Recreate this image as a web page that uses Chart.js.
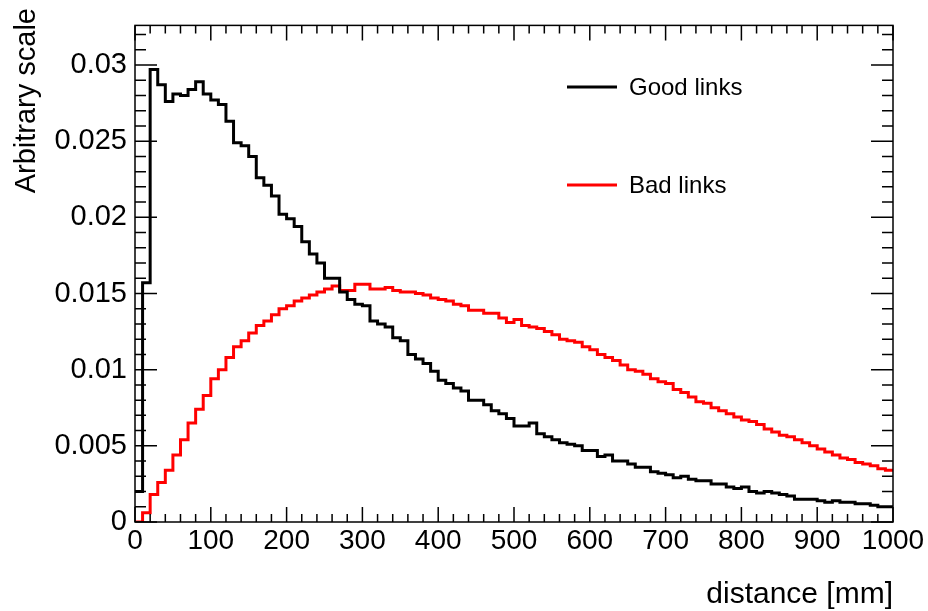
<!DOCTYPE html>
<html>
<head>
<meta charset="utf-8">
<script src="https://cdn.jsdelivr.net/npm/chart.js@4.4.1/dist/chart.umd.min.js"></script>
<style>
  html, body { margin: 0; padding: 0; background: #fff; }
  #wrap { width: 928px; height: 611px; }
</style>
</head>
<body>
<div id="wrap"><canvas id="myChart"></canvas></div>
<script>
// histogram: 100 bins of 10 mm from 0 to 1000
const binWidth = 10;
const xRange = [0, 1000];
const xTicks = [0, 100, 200, 300, 400, 500, 600, 700, 800, 900, 1000];
const yTicks = [0, 0.005, 0.01, 0.015, 0.02, 0.025, 0.03];
const yMax = 0.0326;
const yTitle = 'Arbitrary scale';

const goodLinks = [
  0.0020, 0.0157, 0.0297, 0.0287, 0.0276, 0.0281, 0.0280, 0.0284, 0.0289, 0.0281,
  0.0277, 0.0274, 0.0263, 0.0249, 0.0247, 0.0240, 0.0226, 0.0221, 0.0214, 0.0202,
  0.0199, 0.0194, 0.0184, 0.0176, 0.0170, 0.0160, 0.0160, 0.0151, 0.0146, 0.0143,
  0.0142, 0.0132, 0.0130, 0.0128, 0.0121, 0.0119, 0.0110, 0.0107, 0.0104, 0.0099,
  0.0093, 0.0091, 0.0088, 0.0086, 0.0080, 0.0080, 0.0077, 0.0073, 0.0071, 0.0068,
  0.0063, 0.0063, 0.0065, 0.0058, 0.0056, 0.0054, 0.0052, 0.0051, 0.0050, 0.0047,
  0.0047, 0.0043, 0.0044, 0.0040, 0.0040, 0.0038, 0.0036, 0.0036, 0.0033, 0.0032,
  0.0031, 0.0029, 0.0030, 0.0028, 0.0027, 0.0027, 0.0025, 0.0025, 0.0023, 0.0022,
  0.0023, 0.0020, 0.0019, 0.0020, 0.0019, 0.0018, 0.0017, 0.0015, 0.0015, 0.0015,
  0.0014, 0.0013, 0.0014, 0.0013, 0.0013, 0.0012, 0.0012, 0.0011, 0.0010, 0.0010
];

const badLinks = [
  0.0000, 0.0006, 0.0018, 0.0026, 0.0034, 0.0044, 0.0054, 0.0065, 0.0074, 0.0083,
  0.0094, 0.0100, 0.0108, 0.0115, 0.0119, 0.0124, 0.0129, 0.0132, 0.0136, 0.0140,
  0.0142, 0.0145, 0.0147, 0.0149, 0.0151, 0.0153, 0.0155, 0.0152, 0.0152, 0.0156,
  0.0156, 0.0153, 0.0153, 0.0154, 0.0152, 0.0151, 0.0151, 0.0150, 0.0149, 0.0147,
  0.0146, 0.0145, 0.0143, 0.0142, 0.0139, 0.0139, 0.0137, 0.0137, 0.0134, 0.0131,
  0.0133, 0.0129, 0.0128, 0.0127, 0.0125, 0.0123, 0.0120, 0.0119, 0.0118, 0.0115,
  0.0113, 0.0110, 0.0108, 0.0106, 0.0103, 0.0100, 0.0099, 0.0097, 0.0094, 0.0092,
  0.0091, 0.0087, 0.0085, 0.0082, 0.0079, 0.0078, 0.0075, 0.0073, 0.0071, 0.0069,
  0.0067, 0.0066, 0.0064, 0.0061, 0.0059, 0.0057, 0.0056, 0.0054, 0.0052, 0.0050,
  0.0048, 0.0046, 0.0044, 0.0042, 0.0041, 0.0039, 0.0038, 0.0037, 0.0035, 0.0034
];

// bin contents -> step points (left edge of each bin, plus closing point at the upper edge)
function toSteps(values) {
  const pts = values.map((v, i) => ({ x: xRange[0] + i * binWidth, y: v }));
  pts.push({ x: xRange[1], y: values[values.length - 1] });
  return pts;
}

const FONT = '"Liberation Sans", Arial, Helvetica, sans-serif';

// ROOT style frame: box around plot area with ticks pointing inwards on all four sides
const frameTicks = {
  id: 'frameTicks',
  afterDatasetsDraw(chart) {
    const { ctx, chartArea: a, scales } = chart;
    const xs = scales.x, ys = scales.y;
    ctx.save();
    ctx.strokeStyle = '#000';
    ctx.lineWidth = 1.5;
    ctx.strokeRect(a.left, a.top, a.right - a.left, a.bottom - a.top);
    ctx.beginPath();
    for (let v = xs.min; v <= xs.max + 1e-9; v += 20) {
      const px = xs.getPixelForValue(v);
      const len = (v % 100 === 0) ? 15 : 8;
      ctx.moveTo(px, a.bottom); ctx.lineTo(px, a.bottom - len);
      ctx.moveTo(px, a.top); ctx.lineTo(px, a.top + len);
    }
    for (let k = 0; k * 0.001 <= ys.max + 1e-9; k++) {
      const py = ys.getPixelForValue(k * 0.001);
      const len = (k % 5 === 0) ? 22 : 11;
      ctx.moveTo(a.left, py); ctx.lineTo(a.left + len, py);
      ctx.moveTo(a.right, py); ctx.lineTo(a.right - len, py);
    }
    ctx.stroke();

    // y axis title, right aligned to the top of the frame
    ctx.save();
    ctx.translate(27, 8);
    ctx.rotate(-Math.PI / 2);
    ctx.font = '29px ' + FONT;
    ctx.fillStyle = '#000';
    ctx.textAlign = 'right';
    ctx.textBaseline = 'middle';
    ctx.fillText(yTitle, 0, 0);
    ctx.restore();

    // legend
    const items = chart.data.datasets;
    const legY = [87, 185];
    ctx.font = '24px ' + FONT;
    ctx.textBaseline = 'middle';
    ctx.textAlign = 'left';
    items.forEach((ds, i) => {
      ctx.strokeStyle = ds.borderColor;
      ctx.lineWidth = 3;
      ctx.beginPath();
      ctx.moveTo(567, legY[i]); ctx.lineTo(617, legY[i]);
      ctx.stroke();
      ctx.fillStyle = '#000';
      ctx.fillText(ds.label, 629, legY[i] + 1);
    });
    ctx.restore();
  }
};

const ctx = document.getElementById('myChart');

new Chart(ctx, {
  type: 'line',
  data: {
    datasets: [
      {
        label: 'Good links',
        data: toSteps(goodLinks),
        borderColor: '#000000',
        borderWidth: 3,
        stepped: 'before',
        pointRadius: 0,
        fill: false
      },
      {
        label: 'Bad links',
        data: toSteps(badLinks),
        borderColor: '#ff0000',
        borderWidth: 3,
        stepped: 'before',
        pointRadius: 0,
        fill: false
      }
    ]
  },
  options: {
    responsive: true,
    maintainAspectRatio: false,
    animation: false,
    events: [],
    layout: { padding: { top: 6, right: 35, left: 0, bottom: 0 } },
    plugins: {
      legend: { display: false },
      tooltip: { enabled: false }
    },
    scales: {
      x: {
        type: 'linear',
        min: xRange[0],
        max: xRange[1],
        grid: { display: false, drawTicks: false },
        border: { display: false },
        afterBuildTicks: s => { s.ticks = xTicks.map(v => ({ value: v })); },
        afterFit: s => { s.height = 89; },
        ticks: {
          color: '#000',
          padding: 2,
          maxRotation: 0,
          autoSkip: false,
          font: { family: FONT, size: 28 },
          callback: v => String(v)
        },
        title: {
          display: true,
          text: 'distance [mm]',
          align: 'end',
          color: '#000',
          font: { family: FONT, size: 30, lineHeight: 1 },
          padding: { top: 0, bottom: 1 }
        }
      },
      y: {
        type: 'linear',
        min: 0,
        max: yMax,
        grid: { display: false, drawTicks: false },
        border: { display: false },
        afterBuildTicks: s => { s.ticks = yTicks.map(v => ({ value: v })); },
        afterFit: s => { s.width = 135; },
        ticks: {
          color: '#000',
          padding: 8,
          autoSkip: false,
          font: { family: FONT, size: 29 },
          callback: v => String(Number(v.toFixed(3)))
        },
        title: { display: false }
      }
    }
  },
  plugins: [frameTicks]
});
</script>
</body>
</html>
